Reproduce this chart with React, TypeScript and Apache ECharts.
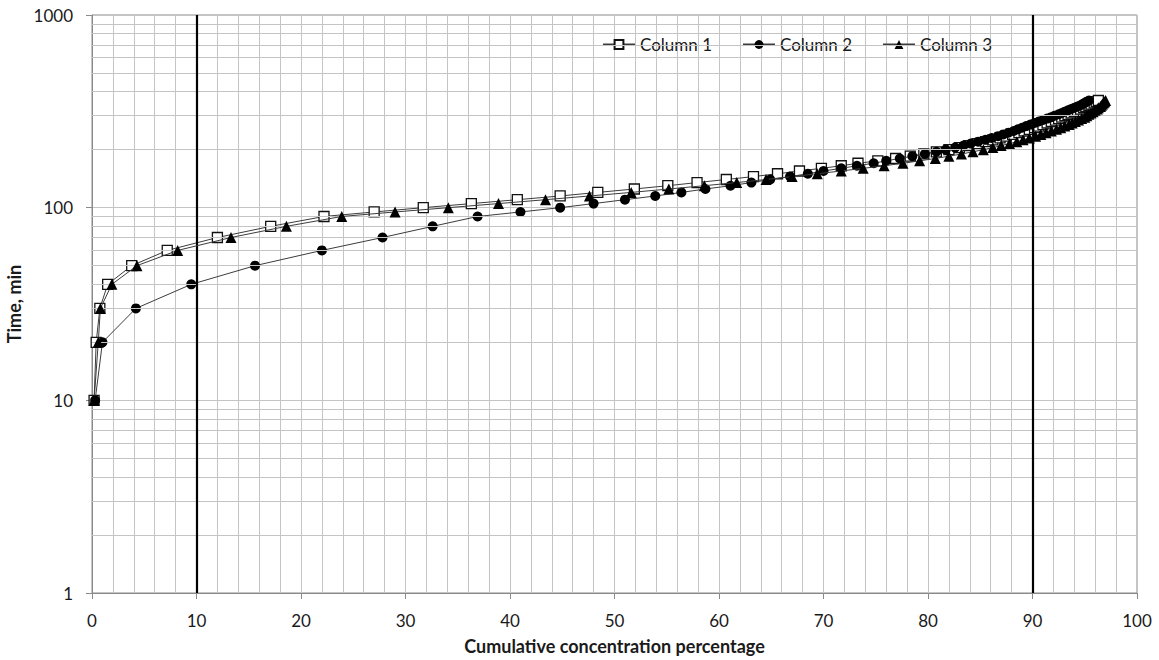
import React, { useEffect, useRef } from "react";
import * as echarts from "echarts";

// Elapsed time (min) for every sample; shared by all three columns
const times = [
  10, 20, 30, 40, 50, 60, 70, 80, 90, 95, 100, 105, 110, 115, 120, 125, 130, 135, 140, 145,
  150, 155, 160, 165, 170, 175, 180, 185, 190, 195, 200, 205, 210, 215, 220, 225, 230, 235,
  240, 245, 250, 255, 260, 265, 270, 275, 280, 285, 290, 295, 300, 305, 310, 315, 320, 325,
  330, 335, 340, 345, 350, 355, 360,
];

// Cumulative concentration percentage reached at each time
const column1 = [
  0.2, 0.4, 0.75, 1.5, 3.8, 7.2, 12.0, 17.1, 22.2, 27.0, 31.7, 36.3, 40.7, 44.8, 48.4, 51.9,
  55.1, 57.9, 60.7, 63.3, 65.6, 67.7, 69.8, 71.7, 73.3, 75.2, 76.9, 78.3, 79.6, 80.8, 82.0,
  83.0, 83.9, 84.7, 85.5, 86.2, 86.9, 87.5, 88.1, 88.7, 89.2, 89.7, 90.2, 90.6, 91.0, 91.4,
  91.8, 92.2, 92.5, 92.8, 93.1, 93.4, 93.7, 94.0, 94.3, 94.6, 94.9, 95.1, 95.4, 95.6, 95.9,
  96.1, 96.3,
];
const column2 = [
  0.3, 1.0, 4.2, 9.5, 15.6, 22.0, 27.8, 32.6, 36.9, 41.0, 44.8, 48.0, 51.0, 53.9, 56.4, 58.7,
  61.1, 63.1, 64.9, 66.8, 68.5, 70.0, 71.7, 73.2, 74.8, 76.0, 77.3, 78.5, 79.7, 80.8, 81.7,
  82.6, 83.4, 84.1, 84.8, 85.5, 86.1, 86.7, 87.2, 87.7, 88.2, 88.6, 89.0, 89.4, 89.8, 90.2,
  90.6, 91.0, 91.4, 91.8, 92.1, 92.5, 92.8, 93.1, 93.4, 93.7, 94.0, 94.3, 94.6, 94.8, 95.0,
  95.2, 95.4,
];
const column3 = [
  0.2, 0.6, 0.8, 1.9, 4.3, 8.2, 13.3, 18.6, 23.9, 29.0, 34.1, 38.9, 43.4, 47.6, 51.6, 55.2,
  58.6, 61.7, 64.5, 67.0, 69.4, 71.7, 73.8, 75.8, 77.6, 79.2, 80.7, 82.0, 83.2, 84.3, 85.3,
  86.2, 87.0, 87.8, 88.5, 89.1, 89.7, 90.3, 90.8, 91.3, 91.8, 92.3, 92.7, 93.1, 93.5, 93.8,
  94.1, 94.4, 94.7, 95.0, 95.2, 95.4, 95.6, 95.8, 96.0, 96.2, 96.3, 96.5, 96.6, 96.7, 96.8,
  96.9, 97.0,
];

// Log-axis minor gridlines (2..9 within each decade)
const logMinorLines = [2, 3, 4, 5, 6, 7, 8, 9, 20, 30, 40, 50, 60, 70, 80, 90, 200, 300, 400, 500, 600, 700, 800, 900];
// Heavy reference lines on the percentage axis
const referenceLines = [10, 90];

const FONT = "Lato, 'Noto Sans', sans-serif";
const GRID_COLOR = "#c4c4c4";

const pairs = (xs: number[]) => xs.map((x, i) => [x, times[i]]);

export default function App() {
  const ref = useRef<HTMLDivElement>(null);

  useEffect(() => {
    if (!ref.current) return;
    const chart = echarts.init(ref.current, undefined, { renderer: "svg" });

    const lineStyle = { color: "#3c3c3c", width: 1 };

    chart.setOption({
      animation: false,
      backgroundColor: "#ffffff",
      textStyle: { fontFamily: FONT },
      grid: {
        left: 92,
        right: 22,
        top: 15,
        bottom: 67,
        containLabel: false,
        outerBoundsMode: "none",
        show: true,
        borderColor: "#8a8a8a",
        borderWidth: 1,
        backgroundColor: "transparent",
      },
      legend: {
        left: 597,
        top: 31,
        itemWidth: 32,
        itemHeight: 11,
        itemGap: 30,
        selectedMode: false,
        textStyle: { fontFamily: FONT, fontSize: 17, color: "#1a1a1a" },
        data: ["Column 1", "Column 2", "Column 3"],
      },
      xAxis: {
        type: "value",
        min: 0,
        max: 100,
        interval: 10,
        name: "Cumulative concentration percentage",
        nameLocation: "middle",
        nameGap: 44,
        nameTextStyle: { fontFamily: FONT, fontSize: 18, fontWeight: "bold", color: "#1a1a1a" },
        axisLine: { show: true, lineStyle: { color: "#8a8a8a", width: 1 } },
        axisTick: { show: true, inside: false, length: 6, lineStyle: { color: "#8a8a8a" } },
        axisLabel: { fontFamily: FONT, fontSize: 17, color: "#1a1a1a", margin: 19 },
        splitLine: { show: true, lineStyle: { color: GRID_COLOR, width: 1 } },
        minorTick: { show: false, splitNumber: 5 },
        minorSplitLine: { show: true, lineStyle: { color: GRID_COLOR, width: 1 } },
      },
      yAxis: {
        type: "log",
        logBase: 10,
        min: 1,
        max: 1000,
        name: "Time, min",
        nameLocation: "middle",
        nameRotate: 90,
        nameGap: 63,
        nameTextStyle: { fontFamily: FONT, fontSize: 18, fontWeight: "bold", color: "#1a1a1a" },
        axisLine: { show: true, lineStyle: { color: "#8a8a8a", width: 1 } },
        axisTick: { show: true, inside: false, length: 6, lineStyle: { color: "#8a8a8a" } },
        axisLabel: {
          fontFamily: FONT,
          fontSize: 17,
          color: "#1a1a1a",
          margin: 19,
          formatter: (v: number) => String(v),
        },
        splitLine: { show: true, lineStyle: { color: GRID_COLOR, width: 1 } },
        minorSplitLine: { show: false },
      },
      series: [
        {
          name: "guides",
          type: "line",
          data: [],
          z: 1,
          silent: true,
          markLine: {
            silent: true,
            symbol: ["none", "none"],
            label: { show: false },
            animation: false,
            data: [
              ...logMinorLines.map((v) => ({
                yAxis: v,
                lineStyle: { color: GRID_COLOR, width: 1, type: "solid" },
              })),
              ...referenceLines.map((v) => ({
                xAxis: v,
                lineStyle: { color: "#000000", width: 2.2, type: "solid" },
              })),
            ],
          },
        },
        {
          name: "Column 1",
          type: "line",
          data: pairs(column1),
          symbol: "rect",
          symbolSize: 10,
          z: 3,
          lineStyle,
          itemStyle: { color: "#ffffff", borderColor: "#111111", borderWidth: 1.3 },
        },
        {
          name: "Column 2",
          type: "line",
          data: pairs(column2),
          symbol: "circle",
          symbolSize: 10,
          z: 4,
          lineStyle,
          itemStyle: { color: "#000000", borderColor: "#000000", borderWidth: 0 },
        },
        {
          name: "Column 3",
          type: "line",
          data: pairs(column3),
          symbol: "triangle",
          symbolSize: 11,
          z: 5,
          lineStyle,
          itemStyle: { color: "#000000", borderColor: "#000000", borderWidth: 0 },
        },
      ],
    });

    return () => chart.dispose();
  }, []);

  return (
    <div
      ref={ref}
      style={{ position: "absolute", left: 0, top: 0, width: 1159, height: 660, background: "#fff" }}
    />
  );
}
